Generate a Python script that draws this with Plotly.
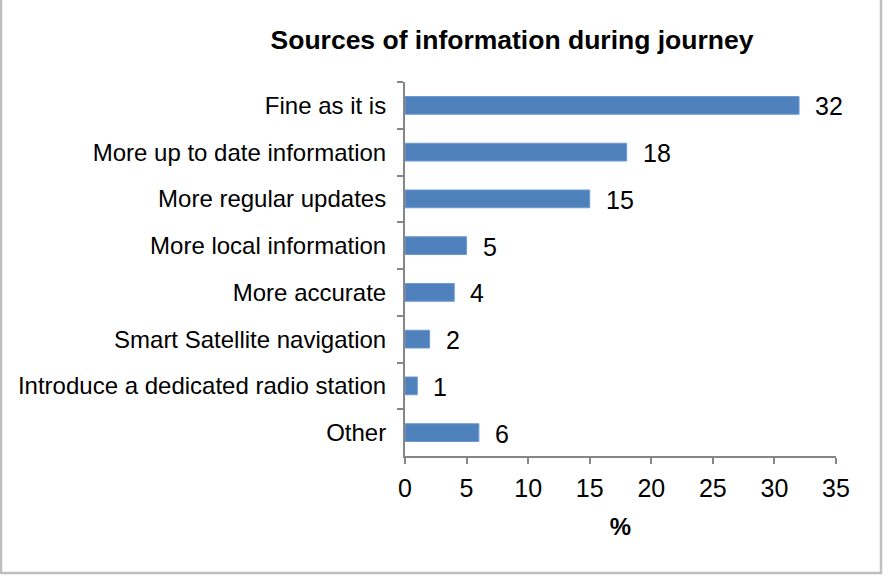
import plotly.graph_objects as go

categories = [
    "Fine as it is",
    "More up to date information",
    "More regular updates",
    "More local information",
    "More accurate",
    "Smart Satellite navigation",
    "Introduce a dedicated radio station",
    "Other",
]
values = [32, 18, 15, 5, 4, 2, 1, 6]
x_ticks = [0, 5, 10, 15, 20, 25, 30, 35]

W, H = 885, 577
ML, MR, MT, MB = 405, 49, 82, 121
PW, PH = W - ML - MR, H - MT - MB

FONT = "Liberation Sans, Arial, sans-serif"
BAR = "#4F81BD"
AXIS = "#868686"

fig = go.Figure(
    go.Bar(
        x=values,
        y=categories,
        orientation="h",
        marker=dict(color=BAR, line=dict(color="#6f9ad0", width=1)),
        width=0.38,
    )
)

for v, c in zip(values, categories):
    fig.add_annotation(
        x=v, y=c, text=str(v), showarrow=False,
        xanchor="left", yanchor="middle", xshift=14, yshift=-1,
        font=dict(family=FONT, size=25, color="#000000"),
    )


def px_x(p):
    return (p - ML) / PW


def px_y(p):
    return 1 - (p - MT) / PH


# outer frame of the chart area
fig.add_shape(
    type="rect", xref="paper", yref="paper",
    x0=px_x(1), x1=px_x(881), y0=px_y(573), y1=px_y(-3),
    line=dict(color="#bfbfbf", width=2.5), fillcolor="rgba(0,0,0,0)",
)

fig.update_layout(
    width=W, height=H,
    margin=dict(l=ML, r=MR, t=MT, b=MB),
    paper_bgcolor="white", plot_bgcolor="white",
    showlegend=False,
    title=dict(
        text="<b>Sources of information during journey</b>",
        x=512 / W, xanchor="center",
        y=1 - 40 / H, yanchor="middle",
        font=dict(family=FONT, size=26.5, color="#000000"),
    ),
    xaxis=dict(
        range=[0, 35], tickvals=x_ticks, ticktext=[str(t) for t in x_ticks],
        showgrid=False, zeroline=False,
        showline=True, linecolor=AXIS, linewidth=2,
        ticks="outside", ticklen=6, tickcolor=AXIS, tickwidth=2,
        tickfont=dict(family=FONT, size=25, color="#000000"),
        ticklabelstandoff=3,
        title=dict(text="<b>%</b>", font=dict(family=FONT, size=24, color="#000000"), standoff=17),
    ),
    yaxis=dict(
        autorange="reversed", type="category",
        showgrid=False, zeroline=False,
        showline=True, linecolor=AXIS, linewidth=2,
        ticks="outside", ticklen=6, tickcolor=AXIS, tickwidth=2,
        tickson="boundaries", ticklabelstandoff=12,
        tickfont=dict(family=FONT, size=24, color="#000000"),
    ),
)

fig.write_html("out.html")
